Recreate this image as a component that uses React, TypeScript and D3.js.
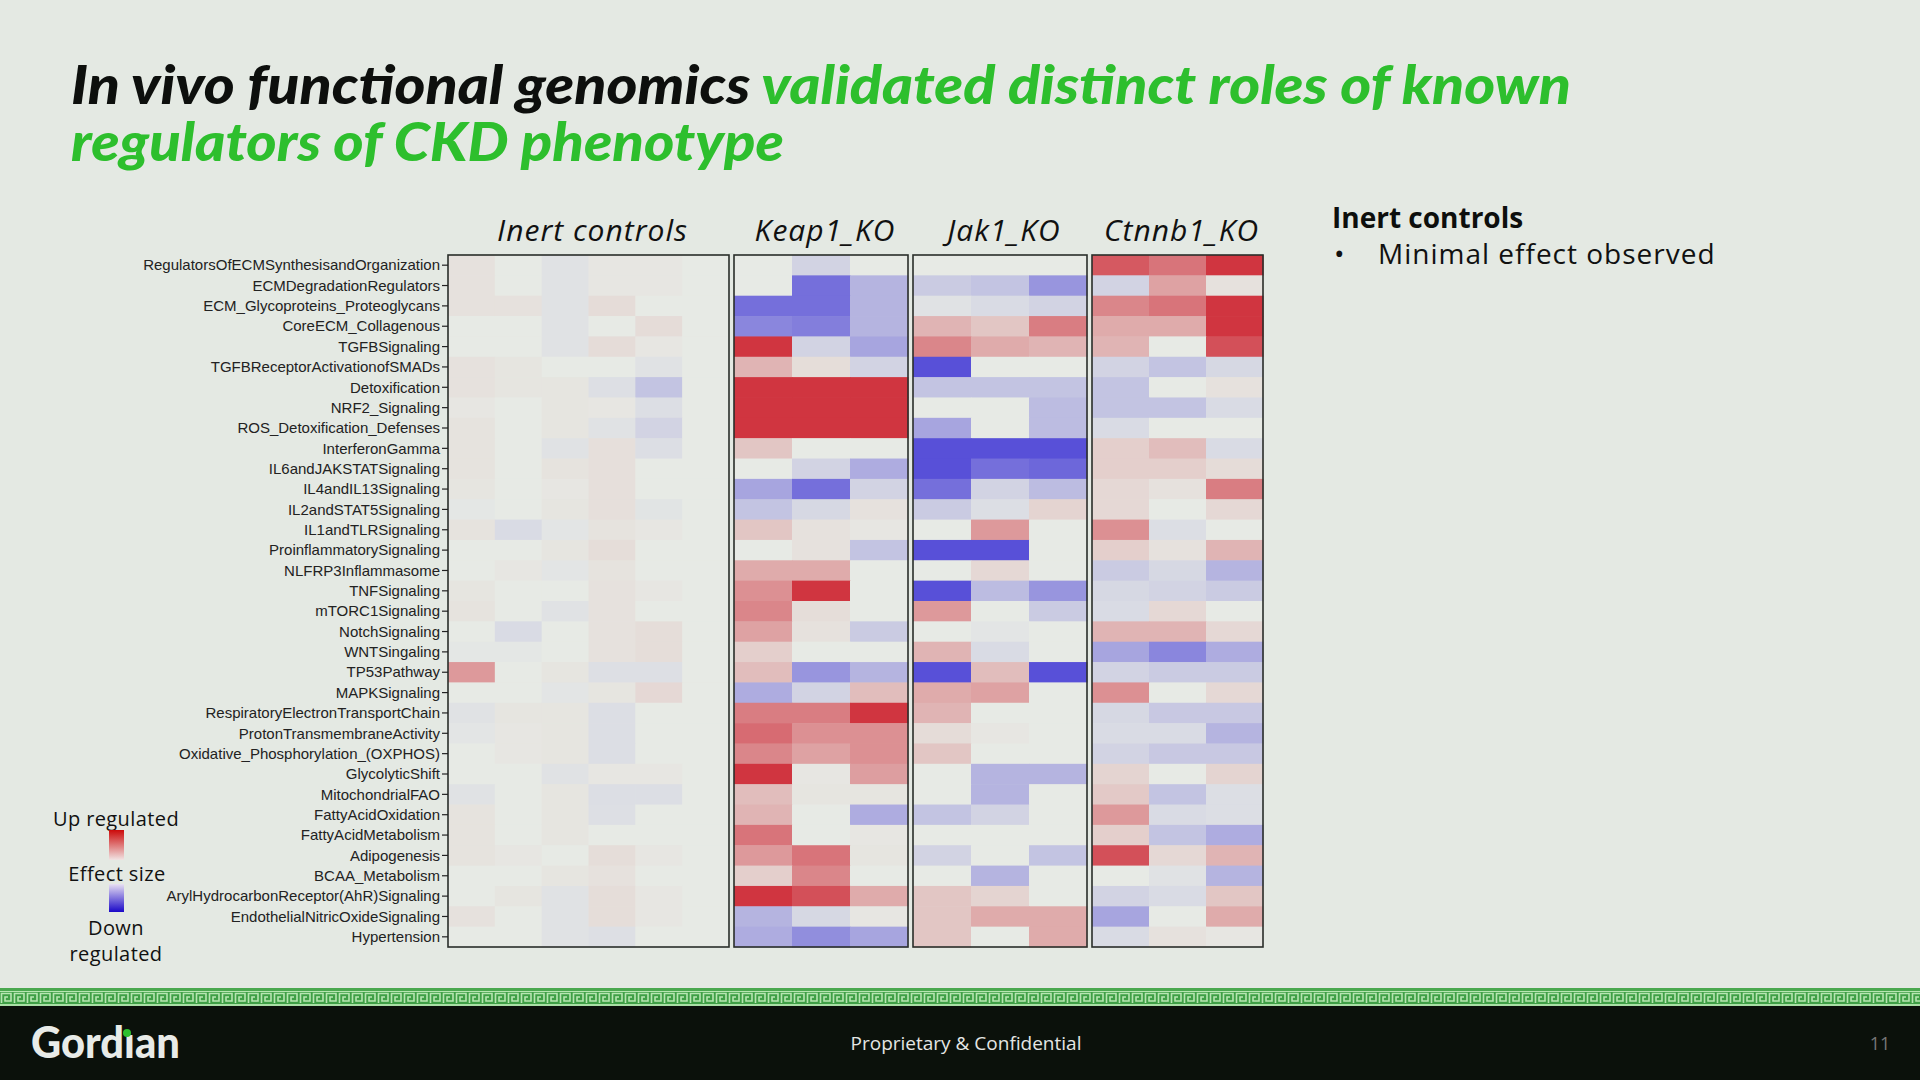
import React from "react";
import * as d3 from "d3";

const pathways = [
  "RegulatorsOfECMSynthesisandOrganization",
  "ECMDegradationRegulators",
  "ECM_Glycoproteins_Proteoglycans",
  "CoreECM_Collagenous",
  "TGFBSignaling",
  "TGFBReceptorActivationofSMADs",
  "Detoxification",
  "NRF2_Signaling",
  "ROS_Detoxification_Defenses",
  "InterferonGamma",
  "IL6andJAKSTATSignaling",
  "IL4andIL13Signaling",
  "IL2andSTAT5Signaling",
  "IL1andTLRSignaling",
  "ProinflammatorySignaling",
  "NLFRP3Inflammasome",
  "TNFSignaling",
  "mTORC1Signaling",
  "NotchSignaling",
  "WNTSingaling",
  "TP53Pathway",
  "MAPKSignaling",
  "RespiratoryElectronTransportChain",
  "ProtonTransmembraneActivity",
  "Oxidative_Phosphorylation_(OXPHOS)",
  "GlycolyticShift",
  "MitochondrialFAO",
  "FattyAcidOxidation",
  "FattyAcidMetabolism",
  "Adipogenesis",
  "BCAA_Metabolism",
  "ArylHydrocarbonReceptor(AhR)Signaling",
  "EndothelialNitricOxideSignaling",
  "Hypertension",
];

const groups = ["Inert controls", "Keap1_KO", "Jak1_KO", "Ctnnb1_KO"];

// effect sizes, scaled -1 (down) .. 1 (up); one row per pathway
const inertValues = [
  [0.05, 0, -0.05, 0.02, 0.02, 0],
  [0.05, 0, -0.05, 0.02, 0.02, 0],
  [0.05, 0.05, -0.05, 0.08, 0, 0],
  [0, 0, -0.05, 0, 0.08, 0],
  [0, 0, -0.05, 0.08, 0.02, 0],
  [0.05, 0.03, 0, 0, -0.05, 0],
  [0.05, 0.03, 0.03, -0.07, -0.25, 0],
  [0.02, 0, 0.03, 0.02, -0.08, 0],
  [0.04, 0, 0.03, -0.05, -0.15, 0],
  [0.04, 0, -0.05, 0.06, -0.08, 0],
  [0.04, 0, 0.04, 0.06, 0, 0],
  [0.03, 0, 0.02, 0.06, 0, 0],
  [-0.02, 0, 0.03, 0.06, -0.04, 0],
  [0.04, -0.1, -0.03, 0.04, 0.02, 0],
  [0, 0, 0.03, 0.07, 0, 0],
  [0, 0.02, -0.03, 0.04, 0, 0],
  [0.03, 0, 0, 0.05, 0.02, 0],
  [0.04, 0, -0.05, 0.05, 0, 0],
  [0, -0.1, 0, 0.05, 0.07, 0],
  [-0.02, -0.02, 0, 0.05, 0.07, 0],
  [0.45, 0, 0.03, -0.07, -0.07, 0],
  [0, 0, -0.03, 0.03, 0.1, 0],
  [-0.05, 0.03, 0.03, -0.08, 0, 0],
  [-0.03, 0.02, 0.03, -0.08, 0, 0],
  [0, 0.02, 0.03, -0.08, 0, 0],
  [0, 0, -0.05, 0.02, 0.02, 0],
  [-0.05, 0, 0.03, -0.08, -0.08, 0],
  [0.04, 0, 0.03, -0.07, 0, 0],
  [0.04, 0, 0.03, 0, 0, 0],
  [0.04, 0.02, 0, 0.07, 0.02, 0],
  [0, 0, 0.03, 0.05, 0, 0],
  [0, 0.03, -0.05, 0.07, 0.02, 0],
  [0.05, 0, -0.05, 0.07, 0.02, 0],
  [0, 0, -0.05, -0.07, 0, 0],
];

const keap1Values = [
  [0, -0.15, 0],
  [0, -0.8, -0.35],
  [-0.8, -0.8, -0.35],
  [-0.65, -0.7, -0.35],
  [1.0, -0.15, -0.45],
  [0.3, 0.07, -0.15],
  [1.0, 1.0, 1.0],
  [1.0, 1.0, 1.0],
  [1.0, 1.0, 1.0],
  [0.2, 0, 0],
  [0, -0.15, -0.4],
  [-0.45, -0.8, -0.15],
  [-0.25, -0.12, 0.05],
  [0.2, 0.05, 0.02],
  [0, 0.05, -0.25],
  [0.35, 0.35, 0],
  [0.5, 1.0, 0],
  [0.55, 0.07, 0],
  [0.4, 0.05, -0.2],
  [0.15, 0, 0],
  [0.25, -0.55, -0.35],
  [-0.4, -0.15, 0.25],
  [0.6, 0.6, 1.0],
  [0.7, 0.5, 0.5],
  [0.55, 0.4, 0.5],
  [1.0, 0.02, 0.42],
  [0.25, 0.03, 0.03],
  [0.3, 0, -0.4],
  [0.65, 0, 0.02],
  [0.45, 0.65, 0.03],
  [0.15, 0.55, 0],
  [1.0, 0.85, 0.35],
  [-0.35, -0.12, 0.02],
  [-0.4, -0.6, -0.45],
];

const jak1Values = [
  [0, 0, 0],
  [-0.2, -0.25, -0.55],
  [-0.05, -0.1, -0.15],
  [0.3, 0.2, 0.6],
  [0.55, 0.35, 0.3],
  [-1.0, 0, 0],
  [-0.25, -0.25, -0.25],
  [0, 0, -0.3],
  [-0.45, 0, -0.3],
  [-1.0, -1.0, -1.0],
  [-1.0, -0.8, -0.85],
  [-0.8, -0.15, -0.3],
  [-0.2, -0.08, 0.12],
  [0, 0.45, 0],
  [-1.0, -1.0, 0],
  [0, 0.1, 0],
  [-1.0, -0.3, -0.55],
  [0.45, 0, -0.2],
  [0, -0.03, 0],
  [0.3, -0.1, 0],
  [-1.0, 0.25, -1.0],
  [0.35, 0.4, 0],
  [0.3, 0, 0],
  [0.08, 0.02, 0],
  [0.2, 0, 0],
  [0, -0.35, -0.35],
  [0, -0.35, 0],
  [-0.25, -0.15, 0],
  [0, 0, 0],
  [-0.15, 0, -0.25],
  [0, -0.35, 0],
  [0.2, 0.12, 0],
  [0.2, 0.35, 0.35],
  [0.2, 0, 0.35],
];

const ctnnb1Values = [
  [0.8, 0.65, 1.0],
  [-0.15, 0.4, 0.05],
  [0.55, 0.65, 1.0],
  [0.35, 0.35, 1.0],
  [0.3, 0, 0.85],
  [-0.15, -0.25, -0.12],
  [-0.25, 0, 0.05],
  [-0.25, -0.25, -0.1],
  [-0.1, 0, 0],
  [0.15, 0.25, -0.1],
  [0.15, 0.15, 0.08],
  [0.1, 0.05, 0.6],
  [0.1, 0, 0.1],
  [0.5, -0.08, 0],
  [0.15, 0.05, 0.3],
  [-0.2, -0.12, -0.35],
  [-0.12, -0.15, -0.2],
  [-0.1, 0.1, 0],
  [0.3, 0.3, 0.1],
  [-0.45, -0.65, -0.4],
  [-0.15, -0.2, -0.2],
  [0.5, 0, 0.1],
  [-0.12, -0.22, -0.22],
  [-0.1, -0.1, -0.35],
  [-0.15, -0.22, -0.22],
  [0.12, 0, 0.12],
  [0.18, -0.25, -0.08],
  [0.45, -0.1, -0.08],
  [0.15, -0.25, -0.4],
  [0.85, 0.1, 0.3],
  [0, -0.05, -0.35],
  [-0.15, -0.1, 0.2],
  [-0.45, 0, 0.35],
  [-0.1, 0.05, 0.02],
];

const groupValues = [inertValues, keap1Values, jak1Values, ctnnb1Values];

const BG = "#e4e9e3";
const GREEN = "#2dbf2d";
const SANS = "'Open Sans', 'Noto Sans', sans-serif";

export default function App() {
  const y = d3.scaleBand<string>().domain(pathways).range([255, 947]);
  const panelX = d3
    .scaleOrdinal<string, [number, number]>()
    .domain(groups)
    .range([
      [448, 729],
      [734, 908],
      [913, 1087],
      [1092, 1263],
    ]);
  const color = d3
    .scaleLinear<string>()
    .domain([-1, 0, 1])
    .range(["#5850d8", "#e7eae5", "#d03540"])
    .interpolate(d3.interpolateRgb)
    .clamp(true);

  return (
    <svg
      width={1920}
      height={1080}
      style={{ position: "absolute", left: 0, top: 0, display: "block" }}
    >
      <defs>
        <pattern id="key" width={13} height={12} patternUnits="userSpaceOnUse" x={0} y={992}>
          <rect width={13} height={12} fill="#3f9f46" />
          <path
            d="M1.5,11 V1.5 H11 V9 H5 V5 H8"
            fill="none"
            stroke="#b6e6b1"
            strokeWidth={1.6}
          />
        </pattern>
        <linearGradient id="upGrad" x1="0" y1="0" x2="0" y2="1">
          <stop offset="0" stopColor="#cc0a0a" />
          <stop offset="1" stopColor="#f1e4e4" />
        </linearGradient>
        <linearGradient id="downGrad" x1="0" y1="0" x2="0" y2="1">
          <stop offset="0" stopColor="#e8e0f2" />
          <stop offset="1" stopColor="#1a08c8" />
        </linearGradient>
      </defs>
      <rect width={1920} height={1080} fill={BG} />

      {/* Title */}
      <text
        x={71}
        y={104}
        fontFamily="Lato, sans-serif"
        fontWeight={900}
        fontStyle="italic"
        fontSize={53}
        textLength={1500}
        lengthAdjust="spacingAndGlyphs"
        fill="#0d0f0d"
      >
        In vivo functional genomics <tspan fill={GREEN}>validated distinct roles of known</tspan>
      </text>
      <text
        x={71}
        y={161}
        fontFamily="Lato, sans-serif"
        fontWeight={900}
        fontStyle="italic"
        fontSize={53}
        textLength={713}
        lengthAdjust="spacingAndGlyphs"
        fill={GREEN}
      >
        regulators of CKD phenotype
      </text>

      {/* Heatmap panels */}
      {groups.map((g, gi) => {
        const [x0, x1] = panelX(g);
        const vals = groupValues[gi];
        const x = d3
          .scaleBand<number>()
          .domain(d3.range(vals[0].length))
          .range([x0, x1]);
        return (
          <g key={g}>
            <text
              x={(x0 + x1) / 2 + 4}
              y={241}
              textAnchor="middle"
              fontFamily={SANS}
              fontStyle="italic"
              fontSize={30}
              letterSpacing={1}
              fill="#111"
            >
              {g}
            </text>
            {pathways.map((p, ri) =>
              vals[ri].map((v, ci) => (
                <rect
                  key={p + ci}
                  x={x(ci)}
                  y={y(p)}
                  width={x.bandwidth() + 0.5}
                  height={y.bandwidth() + 0.5}
                  fill={color(v)}
                />
              ))
            )}
            <rect
              x={x0}
              y={255}
              width={x1 - x0}
              height={692}
              fill="none"
              stroke="#2a2e2a"
              strokeWidth={1.6}
            />
          </g>
        );
      })}

      {/* Y axis */}
      {pathways.map((p) => {
        const cy = (y(p) as number) + y.bandwidth() / 2;
        return (
          <g key={p}>
            <line x1={442} x2={448} y1={cy} y2={cy} stroke="#222" strokeWidth={1.2} />
            <text
              x={440}
              y={cy}
              dy="0.35em"
              textAnchor="end"
              fontFamily="'Liberation Sans', Arial, sans-serif"
              fontSize={15}
              fill="#222"
            >
              {p}
            </text>
          </g>
        );
      })}

      {/* Right annotation */}
      <text x={1332} y={228} fontFamily={SANS} fontWeight={700} fontSize={28} fill="#0d0f0d">
        Inert controls
      </text>
      <text x={1334} y={264} fontFamily={SANS} fontSize={28} fill="#111">
        •
      </text>
      <text x={1378} y={264} fontFamily={SANS} fontSize={28} letterSpacing={1} fill="#111">
        Minimal effect observed
      </text>

      {/* Legend */}
      <g fontFamily={SANS} fontSize={20} fill="#111" textAnchor="middle">
        <text x={116} y={826} letterSpacing={0.4}>Up regulated</text>
        <rect x={109} y={830} width={15} height={30} fill="url(#upGrad)" />
        <text x={117} y={881} letterSpacing={0.4}>Effect size</text>
        <rect x={109} y={884} width={15} height={28} fill="url(#downGrad)" />
        <text x={116} y={935} letterSpacing={0.4}>Down</text>
        <text x={116} y={961} letterSpacing={0.4}>regulated</text>
      </g>

      {/* Footer */}
      <rect x={0} y={1006} width={1920} height={74} fill="#0b110b" />
      <rect x={0} y={988} width={1920} height={3} fill="#4aa84f" />
      <rect x={0} y={991} width={1920} height={1} fill="#b6e6b1" />
      <rect x={0} y={992} width={1920} height={12} fill="url(#key)" />
      <rect x={0} y={1004} width={1920} height={2} fill="#a9dfa5" />
      <text
        x={31}
        y={1058}
        fontFamily="Lato, sans-serif"
        fontWeight={900}
        fontSize={44}
        textLength={149}
        lengthAdjust="spacingAndGlyphs"
        fill="#e8ebe8"
      >
        Gordıan
      </text>
      <circle cx={127} cy={1033} r={4} fill="#2dbf2d" />
      <text
        x={966}
        y={1050}
        textAnchor="middle"
        fontFamily={SANS}
        fontSize={19}
        fill="#e4e6e4"
      >
        Proprietary &amp; Confidential
      </text>
      <text x={1880} y={1050} textAnchor="middle" fontFamily={SANS} fontSize={18} fill="#777">
        11
      </text>
    </svg>
  );
}
